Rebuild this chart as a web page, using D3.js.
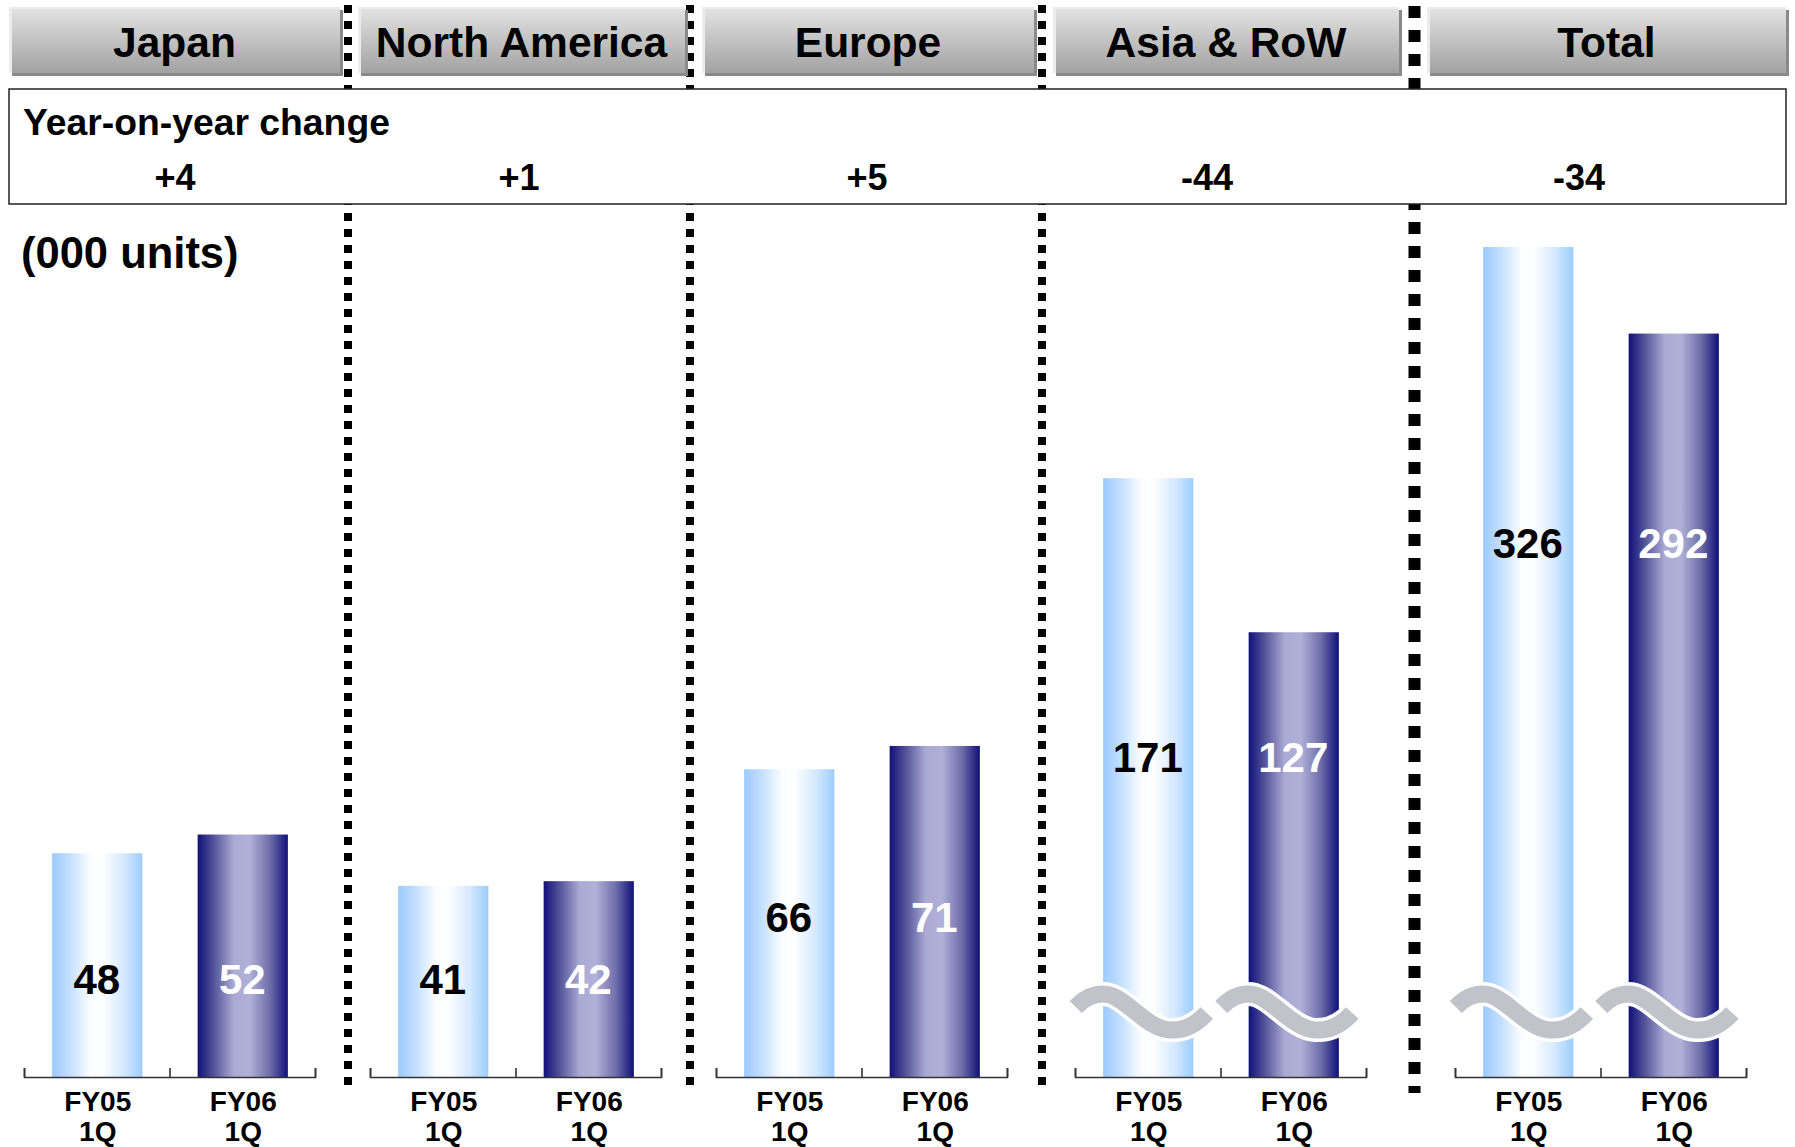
<!DOCTYPE html>
<html>
<head>
<meta charset="utf-8">
<script src="https://cdn.jsdelivr.net/npm/d3@7"></script>
<style>
html,body{margin:0;padding:0;background:#fff;}
svg{display:block;}
text{font-family:"Liberation Sans",Arial,sans-serif;font-weight:bold;}
</style>
</head>
<body>
<svg id="chart" width="1795" height="1147"></svg>
<script>
// ---------- DATA ----------
const regions = ["Japan", "North America", "Europe", "Asia & RoW", "Total"];
const periods = [["FY05", "1Q"], ["FY06", "1Q"]];
const fy05Units = [48, 41, 66, 171, 326];
const fy06Units = [52, 42, 71, 127, 292];
const yoyChange = ["+4", "+1", "+5", "-44", "-34"];
const yoyTitle = "Year-on-year change";
const unitLabel = "(000 units)";
const brokenScale = [false, false, false, true, true];

// ---------- LAYOUT ----------
const W = 1795, H = 1147;
const baseY = 1077, plotTop = 247;
const panelX0 = [24, 370, 716, 1075, 1455];
const panelW = 291;
const panelMax = [178, 178, 178, 237, 326];       // per-panel scale domain
const tabX = [[9, 340], [358, 685], [702, 1034], [1053, 1399], [1427, 1786]];
const yoyX = [175, 519, 867, 1207, 1579];
const labelBaseline = [994, 994, 932, 772, 558];
const separators = [{x: 348, thick: false}, {x: 690, thick: false}, {x: 1042, thick: false}, {x: 1414.5, thick: true}];

const svg = d3.select("#chart");
const defs = svg.append("defs");

function hGrad(id, stops) {
  const g = defs.append("linearGradient").attr("id", id).attr("x1", "0").attr("x2", "1").attr("y1", "0").attr("y2", "0");
  stops.forEach(s => g.append("stop").attr("offset", s[0]).attr("stop-color", s[1]));
}
hGrad("gLight", [[0, "#9ccaff"], [0.2, "#c4e0ff"], [0.42, "#fbfdff"], [0.55, "#ffffff"], [0.8, "#d4e8ff"], [1, "#9ccdff"]]);
hGrad("gDark", [[0, "#10107a"], [0.18, "#54549a"], [0.4, "#aaaad4"], [0.58, "#b0b0d8"], [0.8, "#6e6eaa"], [1, "#10107a"]]);
const tg = defs.append("linearGradient").attr("id", "gTab").attr("x1", "0").attr("x2", "0").attr("y1", "0").attr("y2", "1");
tg.append("stop").attr("offset", 0).attr("stop-color", "#e2e2e2");
tg.append("stop").attr("offset", 1).attr("stop-color", "#a2a2a2");

// ---------- separators ----------
svg.append("g").selectAll("line").data(separators).join("line")
  .attr("x1", d => d.x).attr("x2", d => d.x)
  .attr("y1", d => d.thick ? 6 : 5).attr("y2", d => d.thick ? 1093 : 1085)
  .attr("stroke", "#000")
  .attr("stroke-width", d => d.thick ? 12 : 8)
  .attr("stroke-dasharray", d => d.thick ? "12 12" : "8 8");

// ---------- YoY box ----------
svg.append("rect").attr("x", 9).attr("y", 89).attr("width", 1777).attr("height", 115)
  .attr("fill", "#fff").attr("stroke", "#222").attr("stroke-width", 1.5);
svg.append("text").attr("x", 23).attr("y", 135).attr("font-size", 37.3).text(yoyTitle);
svg.append("g").selectAll("text").data(yoyChange).join("text")
  .attr("x", (d, i) => yoyX[i]).attr("y", 190).attr("text-anchor", "middle")
  .attr("font-size", 36).text(d => d);

// ---------- tabs ----------
const tabs = svg.append("g").selectAll("g").data(regions).join("g");
tabs.append("rect").attr("x", (d, i) => tabX[i][0] + 3).attr("y", 10)
  .attr("width", (d, i) => tabX[i][1] - tabX[i][0]).attr("height", 66).attr("fill", "#8a8a8a");
tabs.append("rect").attr("x", (d, i) => tabX[i][0]).attr("y", 7)
  .attr("width", (d, i) => tabX[i][1] - tabX[i][0]).attr("height", 66).attr("fill", "#ececec");
tabs.append("rect").attr("x", (d, i) => tabX[i][0] + 3).attr("y", 9)
  .attr("width", (d, i) => tabX[i][1] - tabX[i][0] - 3).attr("height", 64).attr("fill", "url(#gTab)");
tabs.append("text").attr("x", (d, i) => (tabX[i][0] + tabX[i][1]) / 2).attr("y", 57)
  .attr("text-anchor", "middle").attr("font-size", 42.5).attr("fill", "#000").text(d => d);

// unit label
svg.append("text").attr("x", 21).attr("y", 268).attr("font-size", 43.5).text(unitLabel);

// ---------- panels ----------
const wave = "M -72,-8 C -62,-18 -50,-23 -38,-20 C -20,-15 0,14 22,15 C 38,16 50,8 59,-2";

regions.forEach((r, i) => {
  const g = svg.append("g");
  const x = d3.scaleBand().domain([0, 1]).range([panelX0[i], panelX0[i] + panelW]).padding(0);
  const y = d3.scaleLinear().domain([0, panelMax[i]]).range([baseY, plotTop]);
  const vals = [fy05Units[i], fy06Units[i]];
  const barW = x.bandwidth() * 0.62;

  g.selectAll("rect.bar").data(vals).join("rect").attr("class", "bar")
    .attr("x", (d, j) => x(j) + (x.bandwidth() - barW) / 2 + 0.5)
    .attr("y", d => y(d))
    .attr("width", barW)
    .attr("height", d => y(0) - y(d))
    .attr("fill", (d, j) => j === 0 ? "url(#gLight)" : "url(#gDark)");

  if (brokenScale[i]) {
    vals.forEach((v, j) => {
      const cx = x(j) + x.bandwidth() / 2;
      const wg = g.append("g").attr("transform", `translate(${cx},1015)`);
      wg.append("path").attr("d", wave).attr("fill", "none").attr("stroke", "#fff").attr("stroke-width", 24);
      wg.append("path").attr("d", wave).attr("fill", "none").attr("stroke", "#c2c2ca").attr("stroke-width", 17);
    });
  }

  g.selectAll("text.val").data(vals).join("text").attr("class", "val")
    .attr("x", (d, j) => x(j) + x.bandwidth() / 2)
    .attr("y", labelBaseline[i])
    .attr("text-anchor", "middle").attr("font-size", 42)
    .attr("fill", (d, j) => j === 0 ? "#000" : "#fff")
    .text(d => d);

  // axis with upward ticks at band edges
  const edge = d3.scaleLinear().domain([0, 2]).range([panelX0[i], panelX0[i] + panelW]);
  const ax = g.append("g").attr("transform", `translate(0,${baseY})`)
    .call(d3.axisBottom(edge).tickValues([0, 1, 2]).tickSize(-9).tickFormat(""));
  ax.selectAll("path,line").attr("stroke", "#333").attr("stroke-width", 1.6);

  // category labels
  const lab = g.selectAll("text.cat").data(periods).join("text").attr("class", "cat")
    .attr("text-anchor", "middle").attr("font-size", 28);
  lab.append("tspan").attr("x", (d, j) => x(j) + x.bandwidth() / 2 + 1).attr("y", 1111).text(d => d[0]);
  lab.append("tspan").attr("x", (d, j) => x(j) + x.bandwidth() / 2 + 1).attr("y", 1141).text(d => d[1]);
});
</script>
</body>
</html>
